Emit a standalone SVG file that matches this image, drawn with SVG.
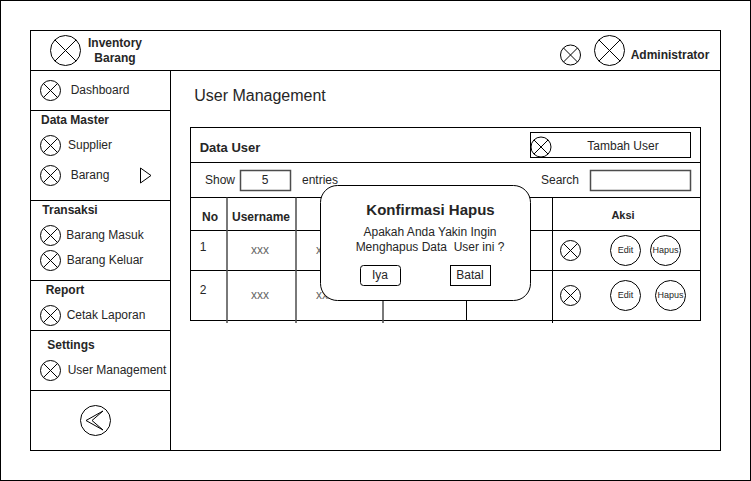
<svg xmlns="http://www.w3.org/2000/svg" width="751" height="481" viewBox="0 0 751 481">
<style>
.l{fill:none;stroke:#000;stroke-width:1}
.g{fill:none;stroke:#4d4d4d;stroke-width:1.5}
.w{fill:#fff;stroke:#000;stroke-width:1}
text{font-family:"Liberation Sans",Arial,sans-serif;font-size:12px;fill:#262626;text-anchor:middle}
.b{font-weight:bold}
.t{font-size:9px}
.v{fill:#666}
</style>
<defs>
<g id="x"><circle r="1" fill="#fff" stroke="#000" vector-effect="non-scaling-stroke"/><path d="M-.707-.707L.707 .707M-.707 .707L.707-.707" fill="none" stroke="#000" vector-effect="non-scaling-stroke"/></g>
</defs>
<rect width="751" height="481" fill="#fff"/>
<g id="frame"><rect class="l" x="0.500" y="0.500" width="750" height="480"/><rect class="l" x="30.500" y="30.500" width="690" height="420"/><path class="l" d="M30.500 70.500H720.500M170.500 70.500V450.500"/></g>
<g id="header">
<use href="#x" transform="translate(65.500 50.500) scale(15)"/>
<text class="b" x="115" y="47">Inventory</text><text class="b" x="115" y="62">Barang</text>
<use href="#x" transform="translate(570.500 55) scale(10)"/>
<use href="#x" transform="translate(609.500 50.500) scale(15)"/>
<text class="b" x="670" y="59">Administrator</text>
</g>
<g id="sidebar">
<path class="l" d="M30.500 110.500H170.500M30.500 200.500H170.500M30.500 280.500H170.500M30.500 330.500H170.500M30.500 390.500H170.500"/>
<use href="#x" transform="translate(50.500 90.500) scale(10)"/><text x="100" y="94">Dashboard</text>
<text class="b" x="75" y="124">Data Master</text>
<use href="#x" transform="translate(50.500 145.500) scale(10)"/><text x="90" y="149">Supplier</text>
<use href="#x" transform="translate(50.500 175.500) scale(10)"/><text x="90" y="179">Barang</text>
<path class="w" d="M140.500 168V183L151 175.500Z"/>
<text class="b" x="70" y="214">Transaksi</text>
<use href="#x" transform="translate(50.500 235.500) scale(10)"/><text x="105" y="239">Barang Masuk</text>
<use href="#x" transform="translate(50.500 260.500) scale(10)"/><text x="105" y="264">Barang Keluar</text>
<text class="b" x="65" y="294">Report</text>
<use href="#x" transform="translate(50.500 315.500) scale(10)"/><text x="106" y="319">Cetak Laporan</text>
<text class="b" x="71" y="349">Settings</text>
<use href="#x" transform="translate(50.500 370.500) scale(10)"/><text x="117" y="374">User Management</text>
<circle class="l" cx="95.500" cy="420.500" r="15"/><path class="l" d="M103 411L86 420.500L103 430L92 420.500Z"/>
</g>
<text x="260" y="101" style="font-size:16px">User Management</text>
<g id="table">
<rect class="l" x="190.500" y="127.500" width="510" height="193"/>
<path class="l" d="M190.500 162.500H700.500M190.500 197.500H700.500M190.500 230.500H700.500M190.500 270.500H700.500"/>
<path class="g" d="M227 197.500V323M296 197.500V323M383 197.500V323"/>
<path class="l" d="M466.500 197.500V320.500M552.500 197.500V323"/>
<text class="b" x="230" y="152" style="font-size:13px">Data User</text>
<rect class="l" x="530.500" y="132.500" width="160" height="25"/>
<use href="#x" transform="translate(541 147) scale(10)"/>
<text x="623" y="150">Tambah User</text>
<text x="220" y="184">Show</text><rect class="g" x="240.500" y="170.500" width="50" height="20"/><text x="265" y="184">5</text>
<text x="320" y="184">entries</text>
<text x="560" y="184">Search</text><rect class="g" x="590.500" y="170.500" width="100" height="20"/>
<text class="b" x="210" y="221">No</text><text class="b" x="261" y="221">Username</text>
<text class="b" x="623" y="219" style="font-size:11px">Aksi</text>
<text x="203" y="251">1</text><text x="203" y="294">2</text>
<text class="v" x="260" y="254">xxx</text><text class="v" x="260" y="299">xxx</text>
<text class="v" x="325" y="254">xxx</text><text class="v" x="325" y="299">xxx</text>
<use href="#x" transform="translate(570.500 250.500) scale(10)"/>
<use href="#x" transform="translate(570.500 295.500) scale(10)"/>
<circle class="l" cx="625.500" cy="250.500" r="15"/><text class="t" x="625.500" y="253">Edit</text>
<circle class="l" cx="665.500" cy="250.500" r="15"/><text class="t" x="665.500" y="253">Hapus</text>
<circle class="l" cx="625.500" cy="295.500" r="15"/><text class="t" x="625.500" y="298">Edit</text>
<circle class="l" cx="670.500" cy="295.500" r="15"/><text class="t" x="670.500" y="298">Hapus</text>
</g>
<g id="dialog">
<rect class="w" x="320.500" y="185.500" width="210" height="115" rx="17" ry="17"/>
<text class="b" x="430.500" y="215" style="font-size:15px">Konfirmasi Hapus</text>
<text x="430" y="236">Apakah Anda Yakin Ingin</text>
<text x="430" y="251" xml:space="preserve">Menghapus Data  User ini ?</text>
<rect class="l" x="360.500" y="265.500" width="40" height="20" rx="3" ry="3"/><text x="380" y="279">Iya</text>
<rect class="l" x="450.500" y="265.500" width="40" height="20"/><text x="470" y="279">Batal</text>
</g>
</svg>
